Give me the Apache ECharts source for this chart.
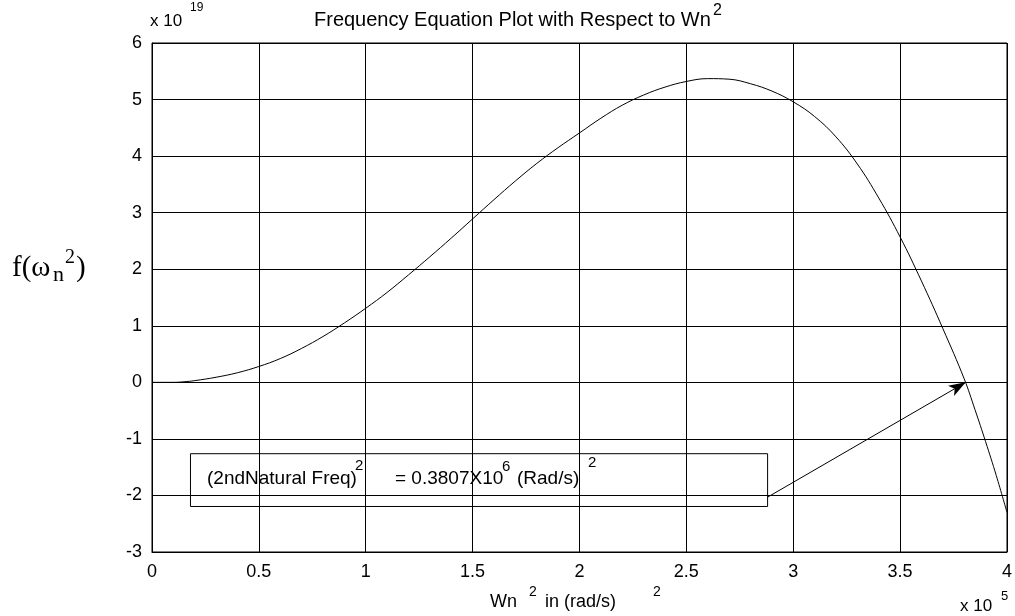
<!DOCTYPE html>
<html><head><meta charset="utf-8">
<script src="https://cdn.jsdelivr.net/npm/echarts@6/dist/echarts.min.js"></script>
<style>html,body{margin:0;padding:0;background:#fff}#c{width:1015px;height:616px}</style>
</head><body><div id="c"></div>
<script>
// x values in units of 1e5 (rad/s)^2, f values in units of 1e19
const wn2 = [0,0.1,0.15,0.2,0.3,0.4,0.5,0.6,0.7,0.8,0.9,1.0,1.1,1.2,1.3,1.4,1.5,1.6,1.7,1.8,1.9,2.0,2.1,2.2,2.3,2.4,2.5,2.6,2.7,2.8,2.9,3.0,3.1,3.2,3.3,3.4,3.5,3.6,3.7,3.8,3.85,3.9,3.95,4.0];
const fVals = [0,0,0.01,0.03,0.09,0.17,0.28,0.42,0.60,0.81,1.05,1.31,1.59,1.90,2.22,2.55,2.89,3.23,3.56,3.87,4.15,4.41,4.67,4.90,5.08,5.22,5.32,5.37,5.36,5.28,5.15,4.96,4.70,4.34,3.86,3.26,2.57,1.79,0.95,0.06,-0.48,-1.05,-1.65,-2.30];
const xRange = [0, 4, 0.5];
const yRange = [-3, 6, 1];
// annotation (data units)
const boxCorners = [[0.18, -1.262], [2.88, -2.195]];
const arrowFrom = [2.88, -2.03];
const arrowTo = [3.807, 0];

const F = "'Liberation Sans', Arial, Helvetica, sans-serif";
const S = "'Liberation Serif', 'Times New Roman', serif";
function t(text, x, y, size, fam) {
  return {type:'text', x:x, y:y, silent:true, style:{text:text, font: size + 'px ' + (fam||F), fill:'#000', textAlign:'left', textVerticalAlign:'middle', verticalAlign:'middle'}};
}

const chart = echarts.init(document.getElementById('c'), null, {renderer:'canvas'});
chart.setOption({
  animation:false,
  backgroundColor:'#fff',
  grid:{left:152, right:8, top:43, bottom:64, show:true, borderColor:'#000', borderWidth:1, backgroundColor:'transparent'},
  xAxis:{type:'value', min:xRange[0], max:xRange[1], interval:xRange[2],
    axisLine:{show:true, onZero:false, lineStyle:{color:'#000', width:1}},
    axisTick:{show:false},
    axisLabel:{color:'#000', fontSize:18, fontFamily:F, margin:11},
    splitLine:{show:true, lineStyle:{color:'#000', width:1}}},
  yAxis:{type:'value', min:yRange[0], max:yRange[1], interval:yRange[2],
    axisLine:{show:true, onZero:false, lineStyle:{color:'#000', width:1}},
    axisTick:{show:false},
    axisLabel:{color:'#000', fontSize:18, fontFamily:F, margin:10},
    splitLine:{show:true, lineStyle:{color:'#000', width:1}}},
  series:[{
    type:'line', showSymbol:false, symbol:'none', smooth:0.4,
    data: wn2.map((x,i)=>[x, fVals[i]]),
    lineStyle:{color:'#000', width:1},
    markArea:{silent:true, itemStyle:{color:'rgba(0,0,0,0)', borderColor:'#000', borderWidth:1},
      label:{show:false},
      data:[[{coord:boxCorners[0]},{coord:boxCorners[1]}]]},
    markLine:{silent:true, symbol:['none','arrow'], symbolSize:[9,17], label:{show:false},
      lineStyle:{color:'#000', width:1, type:'solid'},
      emphasis:{disabled:true},
      data:[[{coord:arrowFrom},{coord:arrowTo}]]}
  }],
  graphic:[
    t('x 10', 150, 21, 17), t('19', 190, 8, 12),
    t('Frequency Equation Plot with Respect to Wn', 314, 20, 20), t('2', 713, 11, 16),
    t('f(\u03c9', 12, 268, 29, S), t('n', 53, 275, 22, S), t('2', 65, 258, 20, S), t(')', 76, 268, 29, S),
    t('Wn', 490, 602, 18), t('2', 529, 592, 14), t('in (rad/s)', 545, 602, 18), t('2', 653, 592, 14),
    t('x 10', 960, 606, 17), t('5', 1001, 596, 13),
    t('(2ndNatural Freq)', 207, 479, 19), t('2', 355, 466, 15),
    t('= 0.3807X10', 395, 479, 19), t('6', 502, 467, 15),
    t('(Rad/s)', 517, 479, 19), t('2', 588, 463, 15)
  ]
});
</script></body></html>
